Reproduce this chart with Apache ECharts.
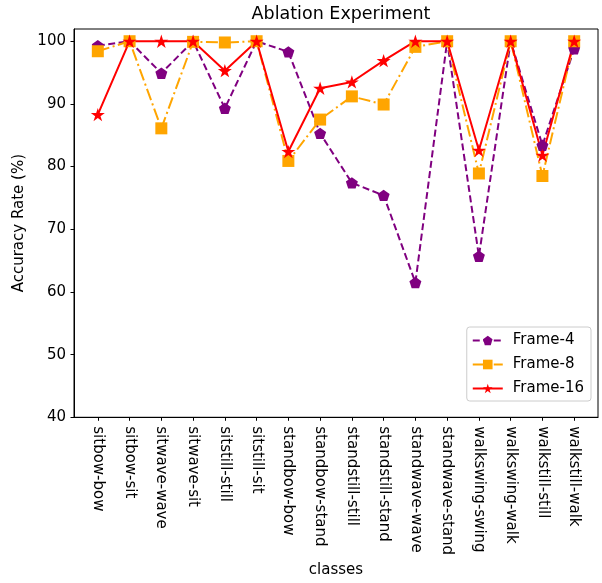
<!DOCTYPE html>
<html>
<head>
<meta charset="utf-8">
<script src="https://cdn.jsdelivr.net/npm/echarts@6/dist/echarts.min.js"></script>
<style>
  html, body { margin: 0; padding: 0; background: #fff; }
  #main { width: 602px; height: 583px; }
</style>
</head>
<body>
<div id="main"></div>
<script type="text/javascript">
    // classes on the x axis
    var classes = ['sitbow-bow', 'sitbow-sit', 'sitwave-wave', 'sitwave-sit', 'sitstill-still', 'sitstill-sit',
        'standbow-bow', 'standbow-stand', 'standstill-still', 'standstill-stand', 'standwave-wave', 'standwave-stand',
        'walkswing-swing', 'walkswing-walk', 'walkstill-still', 'walkstill-walk'];
    var frame4 = [99.3, 100, 94.9, 100, 89.3, 100, 98.3, 85.3, 77.4, 75.4, 61.5, 100, 65.7, 100, 83.4, 98.8];
    var frame8 = [98.4, 100, 86.1, 99.9, 99.8, 100, 80.9, 87.5, 91.2, 89.9, 99.1, 100, 78.9, 100, 78.5, 100];
    var frame16 = [88.3, 100, 100, 100, 95.3, 100, 82.4, 92.5, 93.5, 96.9, 100, 100, 82.6, 100, 81.8, 100];
    var yTicks = [40, 50, 60, 70, 80, 90, 100];

    var classIdx = classes.map(function (c, i) { return i; });
    function pairs(arr) {
        return arr.map(function (v, i) { return [i, v]; });
    }

    var pentagon = 'path://M0,-1 L0.951,-0.309 L0.588,0.809 L-0.588,0.809 L-0.951,-0.309 Z';
    var star = 'path://M0,-1 L0.2245,-0.309 L0.951,-0.309 L0.363,0.118 L0.588,0.809 L0,0.382 L-0.588,0.809 L-0.363,0.118 L-0.951,-0.309 L-0.2245,-0.309 Z';
    var font = 'DejaVu Sans';

    var myChart = echarts.init(document.getElementById('main'));
    var option = {
        backgroundColor: '#fff',
        animation: false,
        textStyle: { fontFamily: font },
        title: {
            text: 'Ablation Experiment',
            left: 336,
            textAlign: 'center',
            top: 0,
            textStyle: { fontFamily: font, fontSize: 17.5, fontWeight: 'normal', color: '#000' }
        },
        grid: {
            left: 74, right: 4, top: 29, bottom: 162,
            show: true, borderColor: '#000', borderWidth: 1
        },
        legend: {
            orient: 'vertical',
            right: 11,
            bottom: 182,
            itemWidth: 30,
            itemHeight: 12,
            itemGap: 9,
            padding: [6, 7, 5, 5],
            borderColor: '#ccc',
            borderWidth: 1,
            borderRadius: 3,
            backgroundColor: 'rgba(255,255,255,0.8)',
            textStyle: { fontFamily: font, fontSize: 15, color: '#000', padding: [0, 0, 0, 5] },
            data: ['Frame-4', 'Frame-8', 'Frame-16']
        },
        xAxis: {
            type: 'value',
            min: -0.75,
            max: 15.75,
            name: 'classes',
            nameLocation: 'middle',
            nameGap: 141,
            nameTextStyle: { fontFamily: font, fontSize: 15, color: '#000' },
            axisLine: { onZero: false, lineStyle: { color: '#000', width: 1 } },
            axisTick: { show: true, length: 3.5, customValues: classIdx, lineStyle: { color: '#000' } },
            axisLabel: {
                customValues: classIdx,
                rotate: -90,
                margin: 9,
                fontFamily: font,
                fontSize: 15,
                color: '#000',
                formatter: function (v) { return classes[Math.round(v)]; }
            },
            splitLine: { show: false }
        },
        yAxis: {
            type: 'value',
            min: 40,
            max: 101.95,
            name: 'Accuracy Rate (%)',
            nameLocation: 'middle',
            nameGap: 42,
            nameTextStyle: { fontFamily: font, fontSize: 15, color: '#000' },
            axisLine: { show: true, onZero: false, lineStyle: { color: '#000', width: 1 } },
            axisTick: { show: true, length: 3.5, customValues: yTicks, lineStyle: { color: '#000' } },
            axisLabel: { customValues: yTicks, margin: 8, fontFamily: font, fontSize: 15, color: '#000' },
            splitLine: { show: false }
        },
        series: [{
            name: 'Frame-4',
            type: 'line',
            data: pairs(frame4),
            symbol: pentagon,
            symbolKeepAspect: true,
            symbolSize: 12,
            itemStyle: { color: '#800080' },
            lineStyle: { color: '#800080', width: 2, type: [7, 3.5] }
        }, {
            name: 'Frame-8',
            type: 'line',
            data: pairs(frame8),
            symbol: 'rect',
            symbolSize: 12,
            itemStyle: { color: '#FFA500' },
            lineStyle: { color: '#FFA500', width: 2, type: [12, 3.5, 2, 3.5] }
        }, {
            name: 'Frame-16',
            type: 'line',
            data: pairs(frame16),
            symbol: star,
            symbolKeepAspect: true,
            symbolSize: 14,
            itemStyle: { color: '#FF0000' },
            lineStyle: { color: '#FF0000', width: 2, type: 'solid' }
        }]
    };
    myChart.setOption(option);
</script>
</body>
</html>
